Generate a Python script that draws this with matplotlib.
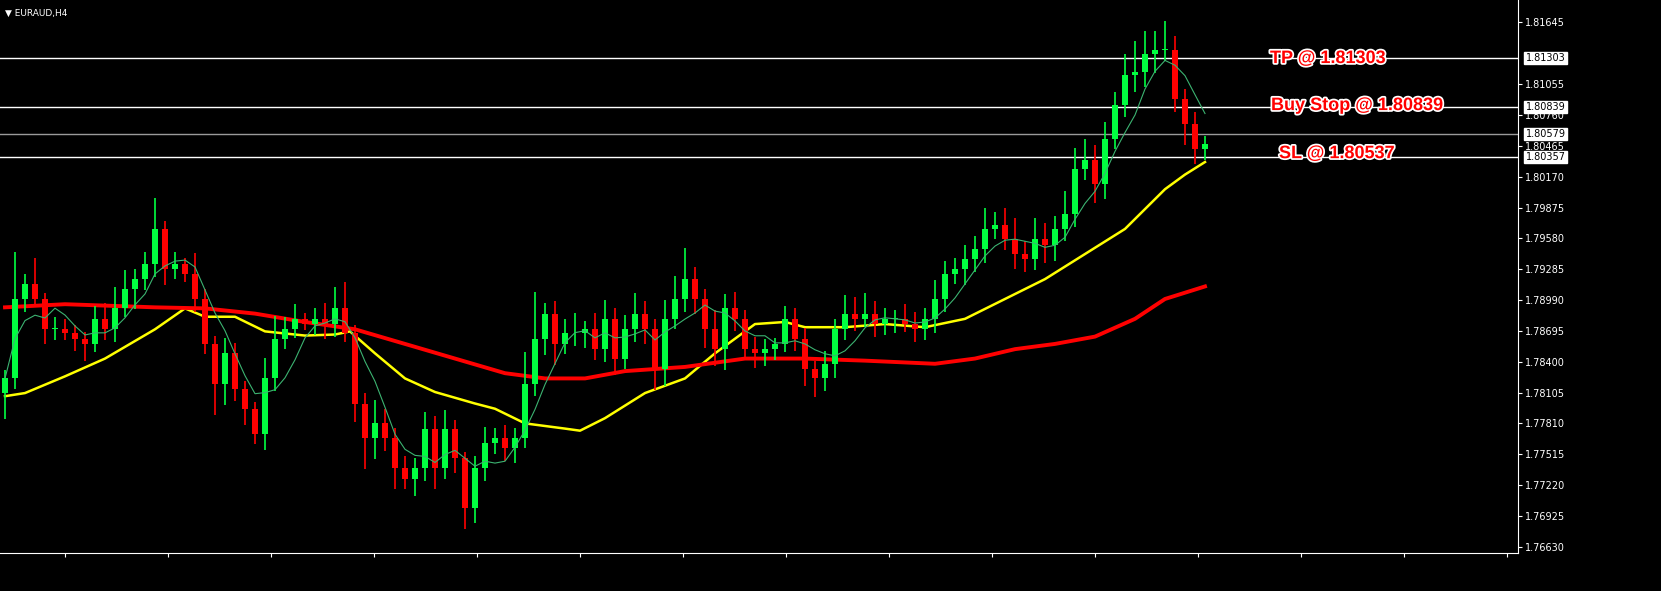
import matplotlib
matplotlib.use("Agg")
import matplotlib.pyplot as plt
import matplotlib.patheffects as pe
import numpy as np
import pandas as pd

closes = [1.7824,1.7900,1.7914,1.7900,1.7871,1.7871,1.7867,1.7862,1.7857,1.7881,
          1.7871,1.7891,1.7910,1.7919,1.7933,1.7967,1.7929,1.7933,1.7924,1.7900,
          1.7857,1.7819,1.7848,1.7814,1.7795,1.7771,1.7824,1.7862,1.7871,1.7881,
          1.7876,1.7881,1.7876,1.7891,1.7867,1.7800,1.7767,1.7781,1.7767,1.7738,
          1.7728,1.7738,1.7776,1.7738,1.7776,1.7748,1.7700,1.7738,1.7762,1.7767,
          1.7757,1.7767,1.7819,1.7862,1.7886,1.7857,1.7867,1.7867,1.7871,1.7852,
          1.7881,1.7843,1.7871,1.7886,1.7871,1.7833,1.7881,1.7900,1.7919,1.7900,
          1.7871,1.7852,1.7891,1.7881,1.7852,1.7848,1.7852,1.7857,1.7881,1.7862,
          1.7833,1.7824,1.7838,1.7871,1.7886,1.7881,1.7886,1.7876,1.7881,1.7881,
          1.7876,1.7871,1.7881,1.7900,1.7924,1.7929,1.7938,1.7948,1.7967,1.7971,
          1.7957,1.7943,1.7938,1.7957,1.7952,1.7967,1.7981,1.8024,1.8033,1.8010,
          1.8053,1.8086,1.8114,1.8117,1.8134,1.8138,1.8138,1.8091,1.8067,1.8043,
          1.8048]
first_open = 1.7810
upper_wick_pips = [8,45,10,25,6,12,10,8,6,12,15,20,18,10,12,30,8,12,6,20,
                   10,8,15,10,8,6,20,22,12,14,6,10,15,20,25,8,10,22,14,10,
                   12,10,16,12,18,8,6,12,16,10,12,10,30,45,10,12,14,20,8,16,
                   18,10,14,20,12,10,18,22,30,12,10,18,14,16,8,12,10,6,12,10,
                   10,8,12,10,18,16,20,12,10,8,14,12,10,18,12,10,14,12,20,12,
                   16,20,12,20,16,12,22,20,20,14,16,12,20,30,22,18,28,14,10,12,
                   8]
lower_wick_pips = [25,10,12,8,14,10,6,12,16,8,10,12,8,20,10,12,16,10,8,12,
                   10,30,20,12,16,10,15,12,10,8,6,10,14,12,8,18,30,20,12,20,
                   10,16,12,20,10,14,20,14,12,10,12,14,10,12,16,20,10,12,14,10,
                   12,16,10,12,14,20,16,10,12,14,18,16,20,12,10,14,12,10,8,12,
                   16,18,12,14,10,12,8,12,10,14,8,12,10,14,12,10,16,12,14,10,
                   10,14,12,10,18,16,12,12,10,18,14,10,12,16,14,18,10,12,20,14,
                   10]

ma_yellow_idx = [0,2,6,10,15,18,20,23,26,30,33,34.5,37,40,43,47,49,52,56,57.5,
                 60,64,68,71,75,78,80,84,88,92,96,100,104,108,112,116,118,120]
ma_yellow = [1.7807,1.7810,1.7826,1.7843,1.7871,1.7891,1.7883,1.7883,1.7869,1.7865,
             1.7866,1.7869,1.7848,1.7824,1.7811,1.7800,1.7795,1.7781,1.7776,1.7774,
             1.7786,1.7810,1.7824,1.7848,1.7876,1.7878,1.7873,1.7873,1.7876,1.7873,
             1.7881,1.7900,1.7919,1.7943,1.7967,1.8005,1.8019,1.8031]
ma_red_idx = [0,6,15,20,25,30,35,40,45,50,54,58,62,68,74,80,86,93,97,101,105,109,
              113,116,120]
ma_red = [1.7892,1.7895,1.7892,1.7891,1.7886,1.7878,1.7871,1.7857,1.7843,1.7829,
          1.7824,1.7824,1.7831,1.7835,1.7843,1.7843,1.7841,1.7838,1.7843,1.7852,
          1.7857,1.7864,1.7881,1.7900,1.7912]

yticks = [1.81645,1.81055,1.80760,1.80465,1.80170,1.79875,1.79580,1.79285,
          1.78990,1.78695,1.78400,1.78105,1.77810,1.77515,1.77220,1.76925,1.76630]
levels = [1.81303,1.80839,1.80579,1.80357]
level_colors = ["white","white","#9a9a9a","white"]
annotations = [("TP @ 1.81303",1.8130,126.5),("Buy Stop @ 1.80839",1.8085,126.6),
               ("SL @ 1.80537",1.8039,127.4)]

W, H = 1661, 591
fig = plt.figure(figsize=(W/100, H/100), dpi=100, facecolor="black")
ax = fig.add_axes([0.0, 38/H, 1518/W, 1-38/H])
ax.set_facecolor("black")
ax.set_xlim(-0.5, 151.3)
ax.set_ylim(1.7657, 1.8186)

n = len(closes)
opens = [first_open] + closes[:-1]
for i in range(n):
    o, c = opens[i], closes[i]
    hi = max(o, c) + upper_wick_pips[i]*0.0001
    lo = min(o, c) - lower_wick_pips[i]*0.0001
    col = "#00ff40" if c >= o else "#ff0000"
    ax.vlines(i, lo, hi, color=col, lw=1.2, zorder=3)
    bot = min(o, c); h = max(abs(c-o), 0.00008)
    ax.bar(i, h, bottom=bot, width=0.55, color=col, zorder=4, linewidth=0)

green_ma = pd.Series(closes).rolling(5, min_periods=1).mean()
ax.plot(range(n), green_ma, color="#3cb371", lw=0.8, zorder=5)
ax.plot(ma_yellow_idx, ma_yellow, color="#ffff00", lw=1.8, zorder=2)
ax.plot(ma_red_idx, ma_red, color="#ff0000", lw=2.8, zorder=2)

for lv, lc in zip(levels, level_colors):
    ax.axhline(lv, color=lc, lw=1.0, zorder=1)
    ax.text(1.005, lv, f"{lv:.5f}", transform=ax.get_yaxis_transform(), va="center",
            ha="left", fontsize=7, color="black", family="DejaVu Sans",
            bbox=dict(boxstyle="square,pad=0.12", fc="white", ec="white"), zorder=10, clip_on=False)

for txt, y, x in annotations:
    ax.text(x, y, txt, color="#ff0000", fontsize=13, fontweight="bold", family="Liberation Sans",
            va="center", ha="left", zorder=11,
            path_effects=[pe.withStroke(linewidth=2.5, foreground="white")])

ax.yaxis.tick_right()
ax.set_yticks(yticks)
ax.set_yticklabels([f"{t:.5f}" for t in yticks])
ax.tick_params(axis="y", colors="white", labelsize=7, length=3, pad=2)
ax.set_xticks(np.arange(6, 152, 10.3))
ax.set_xticklabels([])
ax.tick_params(axis="x", colors="white", length=3)
for s in ["left", "top"]:
    ax.spines[s].set_visible(False)
for s in ["right", "bottom"]:
    ax.spines[s].set_color("white")

fig.text(0.003, 0.985, "\u25bc EURAUD,H4", color="white", fontsize=6.5, va="top", ha="left")
fig.savefig("out.png", dpi=100, facecolor="black")
